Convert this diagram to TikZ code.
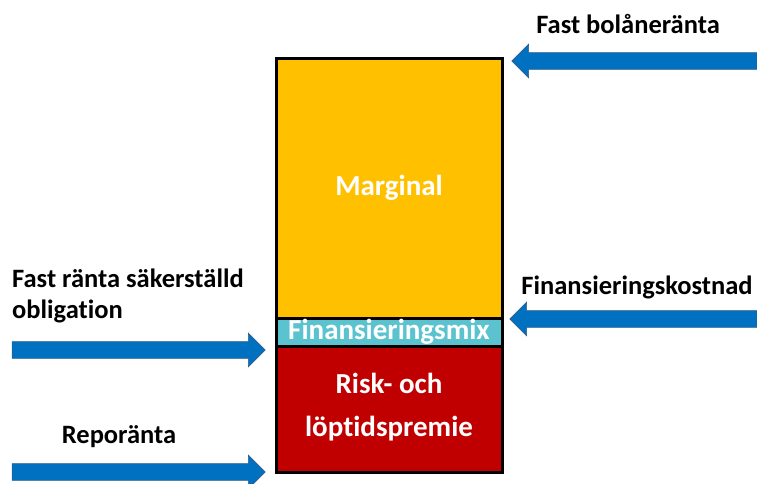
\documentclass[tikz,border=0pt]{standalone}
\usepackage{fontspec}
\setmainfont[Ligatures=NoCommon]{Carlito}
\usetikzlibrary{shapes.arrows}
\definecolor{margin}{HTML}{FFC000}
\definecolor{mixcyan}{HTML}{5BC3CF}
\definecolor{premred}{HTML}{C00000}
\definecolor{arrowblue}{HTML}{0070C0}
\definecolor{arrowedge}{HTML}{2E5C8A}
\tikzset{
  lbl/.style={font=\bfseries\fontsize{26.5}{31}\selectfont, align=left, inner sep=0pt},
  inlbl/.style={lbl, font=\bfseries\fontsize{29}{43}\selectfont, text=white, align=center},
  layer/.style={draw=black, line width=3pt},
  rate/.style={single arrow, fill=arrowblue, draw=arrowedge, line width=0.6pt,
    minimum width=33pt, single arrow head extend=8.5pt, inner sep=8pt, anchor=center},
  toleft/.style={rate, shape border rotate=180}
}
\begin{document}
\begin{tikzpicture}[x=1pt,y=-1pt]
\useasboundingbox (0,0) rectangle (757,483);
% stacked layers of the mortgage rate
\draw[layer, fill=premred] (276,346) rectangle (502,472);
\draw[layer, fill=mixcyan] (276,318) rectangle (502,346);
\draw[layer, fill=margin] (276,58) rectangle (502,318);
\node[inlbl] (marg) at (389,188) {Marginal};
\node[inlbl] (mix) at (389,332) {Finansieringsmix};
\node[inlbl] (prem) at (389,407) {Risk- och\\löptidspremie};
% rates coming in
\node[rate, minimum height=253pt] (obl) at (134.5,350) {};
\node[rate, minimum height=253pt] (repo) at (134.5,472) {};
\node[toleft, minimum height=245pt] (bolan) at (638.5,61) {};
\node[toleft, minimum height=247pt] (kost) at (637.5,319) {};
\node[lbl] (tbolan) at (628,24) {Fast bolåneränta};
\node[lbl] (tkost) at (637,287) {Finansieringskostnad};
\node[lbl, anchor=west] (tobl) at (12,296) {Fast ränta säkerställd\\obligation};
\node[lbl] (trepo) at (119,437) {Reporänta};
\end{tikzpicture}
\end{document}
